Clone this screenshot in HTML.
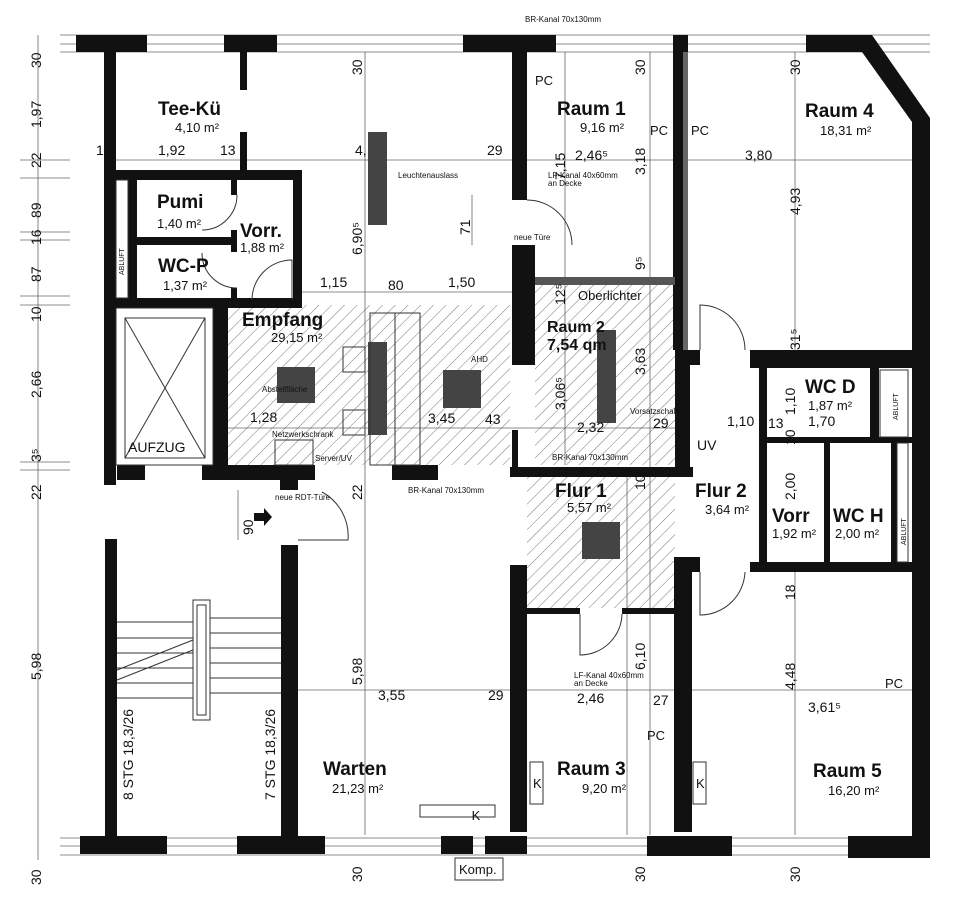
<!DOCTYPE html>
<html><head><meta charset="utf-8"><style>
html,body{margin:0;padding:0;background:#fff;}
svg{display:block;font-family:"Liberation Sans",sans-serif;}
.b{font-weight:bold;font-size:19px;}
.a{font-size:13px;}
.d{font-size:14px;}
.s{font-size:8px;}
</style></head><body>
<svg width="971" height="904" viewBox="0 0 971 904" xmlns="http://www.w3.org/2000/svg">
<defs>
<pattern id="h" width="9" height="9" patternUnits="userSpaceOnUse" patternTransform="rotate(45)">
<line x1="0" y1="0" x2="0" y2="9" stroke="#555" stroke-width="0.8"/></pattern>
</defs>
<rect width="971" height="904" fill="#fff"/>
<!-- hatched areas -->
<rect x="228" y="305" width="282" height="160" fill="url(#h)"/>
<rect x="535" y="285" width="140" height="180" fill="url(#h)"/>
<rect x="527" y="477" width="148" height="131" fill="url(#h)"/>
<!-- dimension lines -->
<g stroke="#666" stroke-width="0.8" fill="none">
<line x1="60" y1="35" x2="930" y2="35"/><line x1="60" y1="44" x2="930" y2="44"/><line x1="60" y1="52" x2="930" y2="52"/>
<line x1="60" y1="838" x2="930" y2="838"/><line x1="60" y1="846" x2="930" y2="846"/><line x1="60" y1="855" x2="930" y2="855"/>
<line x1="38" y1="35" x2="38" y2="860"/>
<line x1="115" y1="160" x2="912" y2="160"/>
<line x1="300" y1="292" x2="512" y2="292"/>
<line x1="228" y1="428" x2="680" y2="428"/>
<line x1="298" y1="690" x2="912" y2="690"/>
<line x1="365" y1="52" x2="365" y2="835"/>
<line x1="565" y1="52" x2="565" y2="465"/>
<line x1="650" y1="52" x2="650" y2="835"/>
<line x1="795" y1="52" x2="795" y2="350"/>
<line x1="795" y1="572" x2="795" y2="835"/>
<line x1="627" y1="477" x2="627" y2="835"/>
<line x1="238" y1="490" x2="238" y2="540"/>
<line x1="472" y1="195" x2="472" y2="245"/>
<line x1="20" y1="160" x2="70" y2="160"/><line x1="20" y1="178" x2="70" y2="178"/>
<line x1="20" y1="232" x2="70" y2="232"/><line x1="20" y1="240" x2="70" y2="240"/>
<line x1="20" y1="296" x2="70" y2="296"/><line x1="20" y1="305" x2="70" y2="305"/>
<line x1="20" y1="462" x2="70" y2="462"/><line x1="20" y1="470" x2="70" y2="470"/>
</g>
<!-- walls -->
<g fill="#111">
<rect x="76" y="35" width="71" height="17"/><rect x="224" y="35" width="53" height="17"/>
<rect x="463" y="35" width="93" height="17"/><rect x="673" y="35" width="15" height="17"/>
<polygon points="806,35 872,35 930,118 930,858 912,858 912,122 862,52 806,52"/>
<rect x="104" y="35" width="12" height="450"/>
<rect x="240" y="50" width="7" height="40"/><rect x="240" y="132" width="7" height="45"/>
<rect x="104" y="170" width="198" height="10"/>
<rect x="293" y="170" width="9" height="135"/>
<rect x="128" y="180" width="9" height="120"/>
<rect x="137" y="237" width="100" height="8"/>
<rect x="231" y="180" width="6" height="15"/><rect x="231" y="230" width="6" height="22"/><rect x="231" y="288" width="6" height="12"/>
<rect x="104" y="298" width="198" height="10"/>
<rect x="213" y="305" width="15" height="165"/>
<rect x="117" y="465" width="28" height="15"/>
<rect x="202" y="465" width="113" height="15"/><rect x="392" y="465" width="46" height="15"/>
<rect x="280" y="480" width="18" height="10"/>
<rect x="512" y="52" width="15" height="148"/><rect x="512" y="245" width="23" height="120"/>
<rect x="512" y="430" width="6" height="40"/>
<rect x="673" y="52" width="10" height="298"/><rect x="683" y="52" width="5" height="298" fill="#666"/>
<rect x="535" y="277" width="140" height="8" fill="#555"/>
<rect x="675" y="350" width="15" height="120"/><rect x="690" y="350" width="10" height="15"/>
<rect x="750" y="350" width="162" height="18"/>
<rect x="759" y="368" width="8" height="200"/>
<rect x="870" y="368" width="9" height="70"/>
<rect x="759" y="437" width="153" height="6"/>
<rect x="824" y="442" width="6" height="120"/>
<rect x="891" y="442" width="6" height="120"/>
<rect x="750" y="562" width="180" height="10"/>
<rect x="510" y="467" width="183" height="10"/>
<rect x="510" y="565" width="17" height="267"/>
<rect x="674" y="557" width="18" height="275"/><rect x="692" y="557" width="8" height="15"/>
<rect x="527" y="608" width="53" height="6"/><rect x="622" y="608" width="53" height="6"/>
<rect x="105" y="539" width="12" height="300"/>
<rect x="281" y="545" width="17" height="294"/>
<rect x="80" y="836" width="87" height="18"/><rect x="237" y="836" width="88" height="18"/>
<rect x="441" y="836" width="32" height="18"/><rect x="485" y="836" width="42" height="18"/>
<rect x="647" y="836" width="85" height="20"/><rect x="848" y="836" width="82" height="22"/>
<!-- dark fixtures -->
<rect x="368" y="132" width="19" height="93" fill="#444"/>
<rect x="368" y="342" width="19" height="93" fill="#444"/>
<rect x="277" y="367" width="38" height="36" fill="#444"/>
<rect x="443" y="370" width="38" height="38" fill="#444"/>
<rect x="597" y="330" width="19" height="93" fill="#444"/>
<rect x="582" y="522" width="38" height="37" fill="#444"/>
</g>
<!-- thin outlines -->
<g stroke="#333" stroke-width="1" fill="none">
<rect x="116" y="180" width="12" height="118"/>
<rect x="116" y="308" width="97" height="157"/><rect x="125" y="318" width="80" height="140"/>
<line x1="125" y1="318" x2="205" y2="458"/><line x1="205" y1="318" x2="125" y2="458"/>
<rect x="880" y="370" width="28" height="67"/><rect x="897" y="443" width="11" height="119"/>
<path d="M237 195 A35 35 0 0 1 202 230"/><path d="M237 288 A35 35 0 0 1 202 253"/>
<path d="M252 300 A40 40 0 0 1 292 260 L292 300"/>
<path d="M527 200 A45 45 0 0 1 572 245"/>
<path d="M700 350 L700 305 A45 45 0 0 1 745 350"/>
<path d="M700 572 L700 615 A45 45 0 0 0 745 572"/>
<path d="M580 614 L580 655 A42 42 0 0 0 622 614"/>
<path d="M298 540 L348 540 A50 50 0 0 0 322 492"/>
<rect x="420" y="805" width="75" height="12"/><rect x="455" y="858" width="48" height="22"/>
<rect x="530" y="762" width="13" height="42"/><rect x="693" y="762" width="13" height="42"/>
<rect x="193" y="600" width="17" height="120"/><rect x="197" y="605" width="9" height="110"/>
<line x1="117" y1="622" x2="193" y2="622"/><line x1="117" y1="638" x2="193" y2="638"/><line x1="117" y1="653" x2="193" y2="653"/><line x1="117" y1="668" x2="193" y2="668"/><line x1="117" y1="683" x2="193" y2="683"/><line x1="117" y1="698" x2="193" y2="698"/>
<line x1="210" y1="618" x2="281" y2="618"/><line x1="210" y1="633" x2="281" y2="633"/><line x1="210" y1="648" x2="281" y2="648"/><line x1="210" y1="663" x2="281" y2="663"/><line x1="210" y1="678" x2="281" y2="678"/><line x1="210" y1="693" x2="281" y2="693"/>
<line x1="117" y1="670" x2="193" y2="640"/><line x1="117" y1="680" x2="193" y2="650"/>
<rect x="548" y="145" width="0" height="0"/>
<rect x="343" y="347" width="22" height="25"/><rect x="343" y="410" width="22" height="25"/>
<rect x="370" y="313" width="50" height="152"/><line x1="395" y1="313" x2="395" y2="465"/>
<rect x="275" y="440" width="38" height="25"/>
</g>
<!-- arrow -->
<polygon points="254,513 264,513 264,508 272,517 264,526 264,521 254,521" fill="#111"/>
<!-- room labels -->
<g fill="#111">
<text x="158" y="115" class="b">Tee-Kü</text><text x="175" y="132" class="a">4,10 m²</text>
<text x="157" y="208" class="b">Pumi</text><text x="157" y="228" class="a">1,40 m²</text>
<text x="240" y="237" class="b">Vorr.</text><text x="240" y="252" class="a">1,88 m²</text>
<text x="158" y="272" class="b">WC-P</text><text x="163" y="290" class="a">1,37 m²</text>
<text x="242" y="326" class="b">Empfang</text><text x="271" y="342" class="a">29,15 m²</text>
<text x="128" y="452" class="d">AUFZUG</text>
<text x="557" y="115" class="b">Raum 1</text><text x="580" y="132" class="a">9,16 m²</text>
<text x="805" y="117" class="b">Raum 4</text><text x="820" y="135" class="a">18,31 m²</text>
<text x="547" y="332" style="font-size:16px;font-weight:bold">Raum 2</text><text x="547" y="350" style="font-size:16px;font-weight:bold">7,54 qm</text>
<text x="578" y="300" class="a">Oberlichter</text>
<text x="805" y="393" class="b">WC D</text><text x="808" y="410" class="a">1,87 m²</text>
<text x="555" y="497" class="b">Flur 1</text><text x="567" y="512" class="a">5,57 m²</text>
<text x="695" y="497" class="b">Flur 2</text><text x="705" y="514" class="a">3,64 m²</text>
<text x="772" y="522" class="b">Vorr</text><text x="772" y="538" class="a">1,92 m²</text>
<text x="833" y="522" class="b">WC H</text><text x="835" y="538" class="a">2,00 m²</text>
<text x="323" y="775" class="b">Warten</text><text x="332" y="793" class="a">21,23 m²</text>
<text x="557" y="775" class="b">Raum 3</text><text x="582" y="793" class="a">9,20 m²</text>
<text x="813" y="777" class="b">Raum 5</text><text x="828" y="795" class="a">16,20 m²</text>
<!-- dimensions -->
<text x="158" y="155" class="d">1,92</text><text x="220" y="155" class="d">13</text><text x="96" y="155" class="d">1</text>
<text x="355" y="155" class="d">4,</text><text x="487" y="155" class="d">29</text>
<text x="575" y="160" class="d">2,46⁵</text><text x="745" y="160" class="d">3,80</text>
<text x="320" y="287" class="d">1,15</text><text x="388" y="290" class="d">80</text><text x="448" y="287" class="d">1,50</text>
<text x="250" y="422" class="d">1,28</text><text x="428" y="423" class="d">3,45</text><text x="485" y="424" class="d">43</text>
<text x="577" y="432" class="d">2,32</text><text x="653" y="428" class="d">29</text>
<text x="727" y="426" class="d">1,10</text><text x="768" y="428" class="d">13</text><text x="808" y="426" class="d">1,70</text>
<text x="378" y="700" class="d">3,55</text><text x="488" y="700" class="d">29</text><text x="577" y="703" class="d">2,46</text><text x="653" y="705" class="d">27</text><text x="808" y="712" class="d">3,61⁵</text>
<text x="697" y="450" class="d">UV</text>
<text x="476" y="820" class="a" text-anchor="middle">K</text>
<text x="459" y="874" class="a">Komp.</text>
<text x="533" y="788" class="a">K</text><text x="696" y="788" class="a">K</text>
<text x="535" y="85" class="a">PC</text><text x="650" y="135" class="a">PC</text><text x="691" y="135" class="a">PC</text>
<text x="647" y="740" class="a">PC</text><text x="885" y="688" class="a">PC</text>
<text x="525" y="22" class="s">BR-Kanal 70x130mm</text>
<text x="408" y="493" class="s">BR-Kanal 70x130mm</text>
<text x="552" y="460" class="s">BR-Kanal 70x130mm</text>
<text x="398" y="178" class="s">Leuchtenauslass</text>
<text x="548" y="178" class="s">LF-Kanal 40x60mm</text><text x="548" y="186" class="s">an Decke</text>
<text x="574" y="678" class="s">LF-Kanal 40x60mm</text><text x="574" y="686" class="s">an Decke</text>
<text x="514" y="240" class="s">neue Türe</text>
<text x="275" y="500" class="s">neue RDT-Türe</text>
<text x="272" y="437" class="s">Netzwerkschrank</text><text x="315" y="461" class="s">Server/UV</text>
<text x="262" y="392" class="s">Abstellfläche</text><text x="471" y="362" class="s">AHD</text>
<text x="630" y="414" class="s">Vorsatzschale</text>
</g>
<!-- rotated texts -->
<g fill="#111" class="d">
<text transform="translate(41,68) rotate(-90)">30</text>
<text transform="translate(41,128) rotate(-90)">1,97</text>
<text transform="translate(41,168) rotate(-90)">22</text>
<text transform="translate(41,218) rotate(-90)">89</text>
<text transform="translate(41,245) rotate(-90)">16</text>
<text transform="translate(41,282) rotate(-90)">87</text>
<text transform="translate(41,322) rotate(-90)">10</text>
<text transform="translate(41,398) rotate(-90)">2,66</text>
<text transform="translate(41,462) rotate(-90)">3⁵</text>
<text transform="translate(41,500) rotate(-90)">22</text>
<text transform="translate(41,680) rotate(-90)">5,98</text>
<text transform="translate(41,885) rotate(-90)">30</text>
<text transform="translate(362,75) rotate(-90)">30</text>
<text transform="translate(362,255) rotate(-90)">6,90⁵</text>
<text transform="translate(470,235) rotate(-90)">71</text>
<text transform="translate(362,500) rotate(-90)">22</text>
<text transform="translate(362,685) rotate(-90)">5,98</text>
<text transform="translate(362,882) rotate(-90)">30</text>
<text transform="translate(253,535) rotate(-90)">90</text>
<text transform="translate(645,75) rotate(-90)">30</text>
<text transform="translate(645,175) rotate(-90)">3,18</text>
<text transform="translate(645,270) rotate(-90)">9⁵</text>
<text transform="translate(645,375) rotate(-90)">3,63</text>
<text transform="translate(645,490) rotate(-90)">10</text>
<text transform="translate(645,670) rotate(-90)">6,10</text>
<text transform="translate(645,882) rotate(-90)">30</text>
<text transform="translate(565,410) rotate(-90)">3,06⁵</text>
<text transform="translate(565,180) rotate(-90)">7,15</text>
<text transform="translate(565,305) rotate(-90)">12⁵</text>
<text transform="translate(800,75) rotate(-90)">30</text>
<text transform="translate(800,215) rotate(-90)">4,93</text>
<text transform="translate(800,350) rotate(-90)">31⁵</text>
<text transform="translate(795,415) rotate(-90)">1,10</text>
<text transform="translate(795,445) rotate(-90)">10</text>
<text transform="translate(795,500) rotate(-90)">2,00</text>
<text transform="translate(795,600) rotate(-90)">18</text>
<text transform="translate(795,690) rotate(-90)">4,48</text>
<text transform="translate(800,882) rotate(-90)">30</text>
<text transform="translate(133,800) rotate(-90)">8 STG 18,3/26</text>
<text transform="translate(275,800) rotate(-90)">7 STG 18,3/26</text>
</g>
<g fill="#111" style="font-size:7px">
<text transform="translate(124,275) rotate(-90)">ABLUFT</text>
<text transform="translate(898,420) rotate(-90)">ABLUFT</text>
<text transform="translate(906,545) rotate(-90)">ABLUFT</text>
</g>
</svg>
</body></html>
